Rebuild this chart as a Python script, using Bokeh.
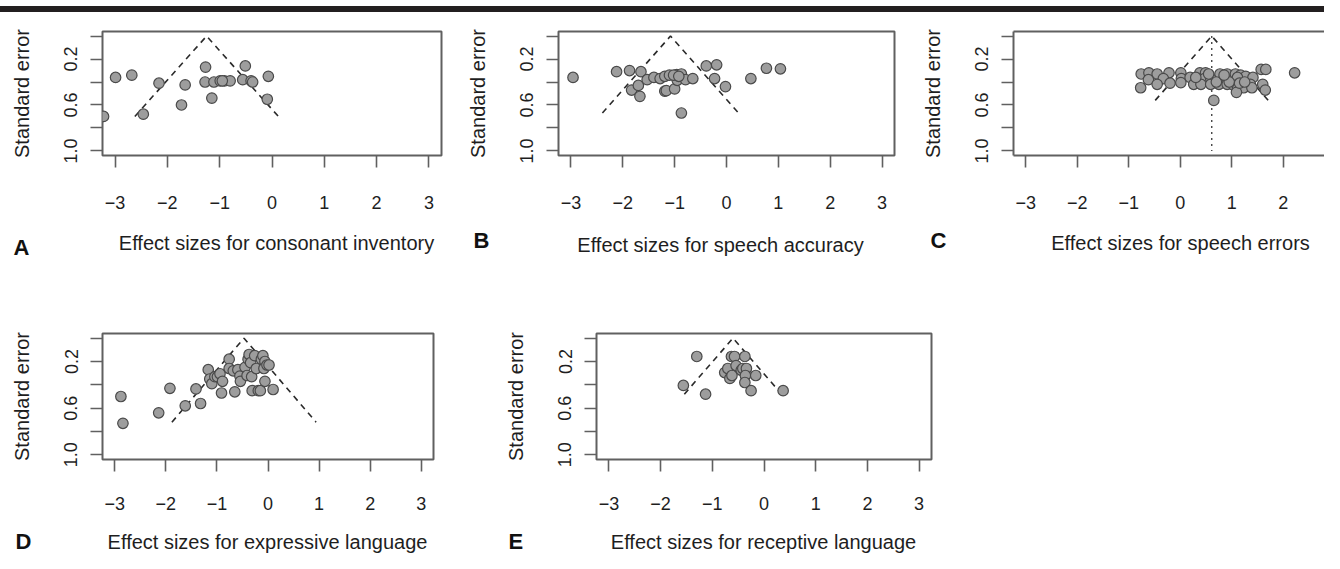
from bokeh.plotting import figure
from bokeh.layouts import column, row
from bokeh.models import Range1d, FixedTicker, LinearAxis, Div
from bokeh.core.properties import value
from bokeh.embed import file_html
from bokeh.resources import INLINE

# ---------------- data ----------------
X_TICKS = [-3, -2, -1, 0, 1, 2, 3]
X_LABELS = ["\u22123", "\u22122", "\u22121", "0", "1", "2", "3"]
Y_TICKS = [0.0, 0.2, 0.4, 0.6, 0.8, 1.0]
Y_LABELS = ["", "0.2", "", "0.6", "", "1.0"]
Y_TITLE = "Standard error"

LETTERS = ["A", "B", "C", "D", "E"]
X_TITLES = ["Effect sizes for consonant inventory", "Effect sizes for speech accuracy",
            "Effect sizes for speech errors", "Effect sizes for expressive language",
            "Effect sizes for receptive language"]

# A: consonant inventory
a_es = [-3.22, -2.99, -2.68, -2.46, -2.16, -1.73, -1.66, -1.27, -1.28, -1.15, -1.11,
        -0.99, -0.91, -0.80, -0.51, -0.56, -0.40, -0.37, -0.07, -0.09, -0.95]
a_se = [0.70, 0.36, 0.34, 0.68, 0.41, 0.60, 0.425, 0.27, 0.40, 0.54, 0.40,
        0.39, 0.39, 0.39, 0.26, 0.38, 0.39, 0.40, 0.35, 0.55, 0.39]
a_center, a_semax = -1.25, 0.70

# B: speech accuracy
b_es = [-2.96, -2.12, -1.87, -1.65, -1.83, -1.70, -1.67, -1.53, -1.40, -1.28, -1.19,
        -1.10, -0.96, -0.87, -1.19, -1.16, -1.00, -0.95, -0.79, -0.65, -0.87, -0.39,
        -0.19, -0.23, -0.02, 0.47, 0.77, 1.04, -1.02, -0.92]
b_se = [0.36, 0.31, 0.30, 0.31, 0.47, 0.43, 0.525, 0.38, 0.36, 0.37, 0.35,
        0.34, 0.335, 0.33, 0.48, 0.475, 0.46, 0.385, 0.38, 0.37, 0.67, 0.26,
        0.25, 0.37, 0.44, 0.37, 0.28, 0.285, 0.34, 0.35]
b_center, b_semax = -1.08, 0.67

# C: speech errors
c_es = [-0.76, -0.61, -0.45, -0.22, 0.01, 0.38, 0.49, 0.77, 0.91, 1.07, 1.17, 1.27, 1.41,
        1.57, 1.66, 2.22, -0.62, -0.33, 0.02, 0.19, 0.47, 0.59, 0.85, 1.11, -0.45, -0.20,
        0.01, 0.26, 0.40, 0.59, 0.75, 0.91, 1.04, 1.20, 1.36, 1.60, -0.77, 1.11, 1.23,
        1.39, 1.09, 1.65, 0.65, 0.70, 0.95, 1.15, 1.25, 0.30, 0.55, 0.85]
c_se = [0.33, 0.32, 0.33, 0.32, 0.32, 0.32, 0.32, 0.33, 0.33, 0.33, 0.34, 0.35, 0.36,
        0.29, 0.29, 0.32, 0.38, 0.37, 0.37, 0.36, 0.37, 0.37, 0.37, 0.36, 0.42, 0.41,
        0.405, 0.42, 0.42, 0.42, 0.42, 0.42, 0.43, 0.43, 0.42, 0.42, 0.45, 0.46, 0.45,
        0.45, 0.49, 0.47, 0.56, 0.40, 0.40, 0.41, 0.40, 0.36, 0.33, 0.34]
c_center, c_semax = 0.61, 0.56

# D: expressive language
d_es = [-2.88, -2.84, -2.14, -1.92, -1.62, -1.41, -1.32, -1.17, -1.14, -1.10, -1.04,
        -0.99, -0.94, -0.89, -0.91, -0.76, -0.76, -0.68, -0.65, -0.59, -0.55, -0.54,
        -0.45, -0.41, -0.39, -0.37, -0.34, -0.32, -0.31, -0.26, -0.23, -0.19, -0.15,
        -0.13, -0.10, -0.06, -0.08, -0.06, -0.02, 0.02, 0.10]
d_se = [0.50, 0.73, 0.64, 0.43, 0.58, 0.435, 0.56, 0.27, 0.35, 0.39, 0.33,
        0.33, 0.305, 0.37, 0.47, 0.18, 0.26, 0.28, 0.46, 0.27, 0.325, 0.37,
        0.25, 0.32, 0.18, 0.14, 0.21, 0.33, 0.45, 0.15, 0.26, 0.45, 0.45,
        0.18, 0.15, 0.20, 0.26, 0.37, 0.23, 0.23, 0.44]
d_center, d_semax = -0.47, 0.72

# E: receptive language
e_es = [-1.56, -1.30, -1.13, -0.76, -0.70, -0.66, -0.62, -0.63, -0.57, -0.54, -0.44,
        -0.41, -0.34, -0.37, -0.36, -0.37, -0.25, -0.16, 0.37]
e_se = [0.405, 0.157, 0.48, 0.295, 0.26, 0.345, 0.32, 0.157, 0.157, 0.235, 0.275,
        0.26, 0.26, 0.157, 0.32, 0.38, 0.45, 0.32, 0.45]
e_center, e_semax = -0.60, 0.48

# ---------------- styling ----------------
FONT = "Liberation Sans"
BOX = "#606060"
TXT = "#1e1e1e"
PAGE_W = 1324


def style_axis(ax, standoff, vertical=False):
    ax.axis_line_color = None
    ax.major_tick_out = 12
    ax.major_tick_in = 0
    ax.major_tick_line_color = BOX
    ax.major_tick_line_width = 1.6
    ax.minor_tick_line_color = None
    ax.major_label_text_font = FONT
    ax.major_label_text_font_size = "18px"
    ax.major_label_text_color = TXT
    ax.major_label_standoff = standoff
    ax.axis_label_text_font = FONT
    ax.axis_label_text_font_size = "20px"
    ax.axis_label_text_font_style = "normal"
    ax.axis_label_text_color = TXT
    ax.axis_label_standoff = 29
    if vertical:
        ax.major_label_orientation = "vertical"


def panel(es, se, center, semax, width, height, borders, x_end=3.24, dotted=False,
          right_edge=True, x_standoff=28):
    left, right, top, bottom = borders
    p = figure(width=width, height=height, output_backend="svg", toolbar_location=None,
               title=None,
               x_range=Range1d(-3.24, x_end), y_range=Range1d(1.04, -0.04),
               min_border_left=left, min_border_right=right,
               min_border_top=top, min_border_bottom=bottom,
               background_fill_color="white", border_fill_color="white")
    p.grid.visible = False
    p.outline_line_color = BOX if right_edge else None
    p.outline_line_width = 2

    xa = p.xaxis[0]
    xa.ticker = FixedTicker(ticks=X_TICKS)
    xa.major_label_overrides = dict(zip(X_TICKS, X_LABELS))
    style_axis(xa, x_standoff)

    ya = p.yaxis[0]
    ya.ticker = FixedTicker(ticks=Y_TICKS)
    ya.major_label_overrides = dict(zip(Y_TICKS, Y_LABELS))
    ya.axis_label = Y_TITLE
    style_axis(ya, 13, vertical=True)

    if not right_edge:
        for ax in (xa, ya):
            ax.axis_line_color = BOX
            ax.axis_line_width = 2
        top_ax = LinearAxis(ticker=FixedTicker(ticks=[]), axis_line_color=BOX,
                            axis_line_width=2, major_tick_line_color=None,
                            minor_tick_line_color=None, major_label_text_font_size="0px")
        p.add_layout(top_ax, "above")

    # funnel: center +/- 1.96 * se
    fx = [center - 1.96 * semax, center, center + 1.96 * semax]
    fy = [semax, 0.0, semax]
    p.line(fx, fy, line_color="#2a2a2a", line_width=1.6, line_dash="6 5")
    if dotted:
        p.line([center, center], [Y_TICKS[0], Y_TICKS[-1]], line_color="#444444",
               line_width=1.4, line_dash="2 4")

    p.scatter(es, se, size=10.5, fill_color="#9d9d9d", line_color="#4a4a4a", line_width=1.2)
    return p


def caption(height, letters, letter_x, letter_y, titles, title_x, title_y):
    c = figure(width=PAGE_W, height=height, output_backend="svg", toolbar_location=None,
               title=None,
               x_range=Range1d(0, PAGE_W), y_range=Range1d(height, 0),
               x_axis_location=None, y_axis_location=None, min_border=0,
               outline_line_color=None, background_fill_color="white",
               border_fill_color="white")
    c.grid.visible = False
    c.text(x=letter_x, y=letter_y, text=letters, text_font=value(FONT),
           text_font_size="22px", text_font_style="bold", text_color="#111111",
           text_baseline="alphabetic", text_align="left")
    c.text(x=title_x, y=title_y, text=titles, text_font=value(FONT),
           text_font_size="20px", text_color=TXT,
           text_baseline="alphabetic", text_align="center")
    return c


bar = Div(text="", width=PAGE_W, height=6, margin=(6, 0, 0, 0),
          styles={"background-color": "#231f20"})

pa = panel(a_es, a_se, a_center, a_semax, 455, 210, (102, 14, 13, 67))
pb = panel(b_es, b_se, b_center, b_semax, 450, 210, (103, 11, 19, 62))
pc = panel(c_es, c_se, c_center, c_semax, 419, 210, (108, 0, 13, 67),
           x_end=2.8, dotted=True, right_edge=False)
pd = panel(d_es, d_se, d_center, d_semax, 470, 248, (102, 37, 59, 60), x_standoff=25)
pe = panel(e_es, e_se, e_center, e_semax, 475, 248, (126, 14, 54, 63), x_standoff=25)

# caption strips (panel letters + x-axis titles), pixel positions within each strip
cap1 = caption(52, LETTERS[:3], [13, 473, 930], [25, 18, 18],
               X_TITLES[:3], [276, 720, 1180], [20, 22, 20])
cap2 = caption(31, LETTERS[3:], [15, 508], [19, 19], X_TITLES[3:], [267, 763], [19, 19])

layout = column(bar, row(pa, pb, pc), cap1, row(pd, pe), cap2)
open("out.html", "w").write(file_html(layout, INLINE))
